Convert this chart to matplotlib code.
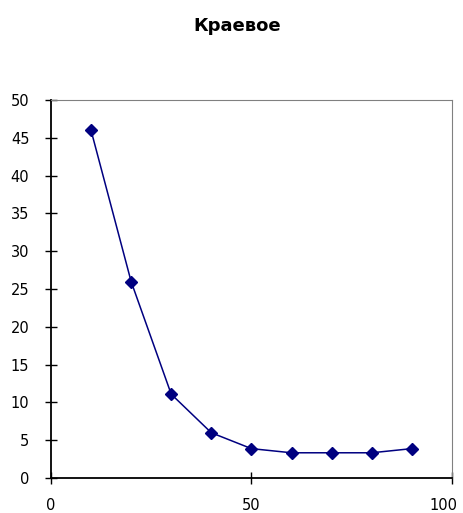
import matplotlib
matplotlib.use('Agg')
import matplotlib.pyplot as plt
import matplotlib.transforms as mtransforms

plt.rcParams['font.family'] = ['DejaVu Sans']

# данные
x = [10, 20, 30, 40, 50, 60, 70, 80, 90]
y = [46, 26, 11.1, 6, 3.9, 3.35, 3.35, 3.35, 3.9]
xticks = [0, 50, 100]
yticks = [0, 5, 10, 15, 20, 25, 30, 35, 40, 45, 50]

fig = plt.figure(figsize=(4.63, 5.13), dpi=100)
ax = fig.add_axes([0.110, 0.068, 0.866, 0.737])

ax.plot(x, y, color='#000080', lw=1.1, marker='D', markersize=6,
        markerfacecolor='#000080', markeredgecolor='#000080')

ax.set_xlim(0, 100)
ax.set_ylim(0, 50)
ax.set_xticks(xticks)
ax.set_yticks(yticks)
ax.tick_params(direction='inout', length=9, width=1, labelsize=10.5, colors='black')
ax.tick_params(axis='x', pad=10)
ax.tick_params(axis='y', pad=11)

# последняя подпись "100" чуть влево, чтобы не обрезалась
lbl = ax.get_xticklabels()[-1]
lbl.set_transform(lbl.get_transform() +
                  mtransforms.ScaledTranslation(-8 / 100, 0, fig.dpi_scale_trans))

ax.spines['left'].set_color('black')
ax.spines['bottom'].set_color('black')
ax.spines['left'].set_linewidth(1.3)
ax.spines['bottom'].set_linewidth(1.3)
ax.spines['top'].set_color('#808080')
ax.spines['right'].set_color('#808080')

fig.text(0.512, 0.95, 'Краевое', ha='center', va='center',
         fontsize=13, fontweight='bold')

fig.savefig('out.png', dpi=100)
